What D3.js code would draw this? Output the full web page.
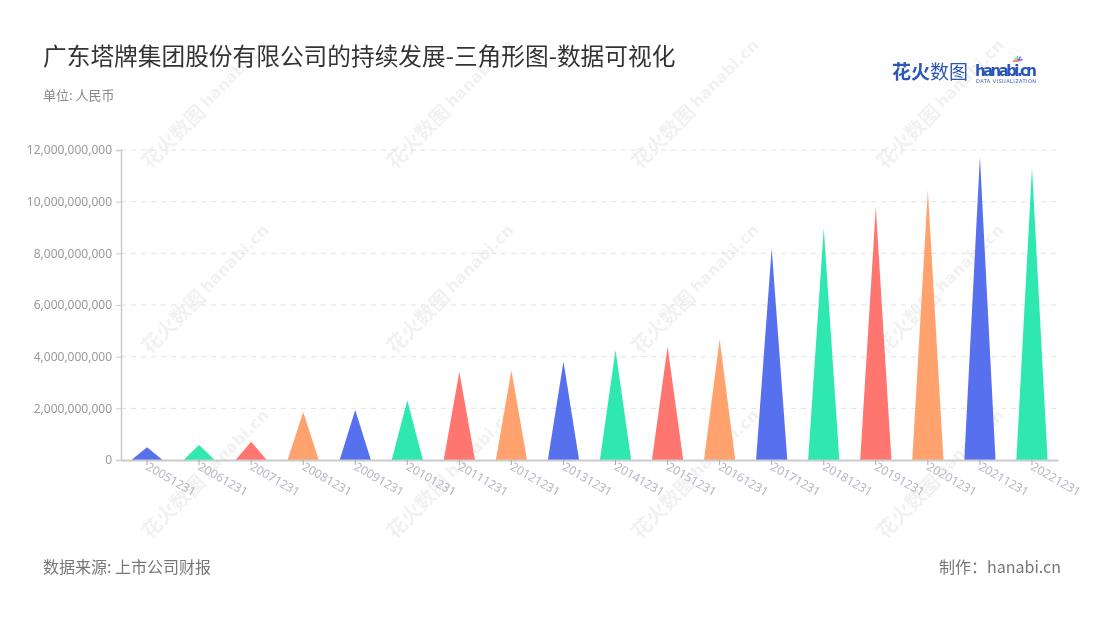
<!DOCTYPE html>
<html><head><meta charset="utf-8">
<script src="https://cdn.jsdelivr.net/npm/d3@7/dist/d3.min.js"></script>
<style>
body{margin:0;background:#fff;}
svg{display:block;font-family:"Noto Sans CJK SC","Noto Sans",sans-serif;}
</style></head>
<body><svg id="c" width="1100" height="620"></svg>
<script>
const categories = ["20051231","20061231","20071231","20081231","20091231","20101231","20111231","20121231","20131231","20141231","20151231","20161231","20171231","20181231","20191231","20201231","20211231","20221231"];
const values = [0.49e9,0.58e9,0.71e9,1.86e9,1.94e9,2.31e9,3.42e9,3.46e9,3.81e9,4.26e9,4.39e9,4.67e9,8.19e9,8.97e9,9.78e9,10.45e9,11.74e9,11.32e9];
const yTicks = [0,2e9,4e9,6e9,8e9,10e9,12e9];
const palette = ["#5770ee","#2ee8b0","#ff7570","#ffa26e"];

const svg = d3.select("#c");
const m = {l:121, r:1058, t:150, b:460};
const x = d3.scaleBand().domain(categories).range([m.l, m.r]).padding(0);
const y = d3.scaleLinear().domain([0,12e9]).range([m.b, m.t]);

// watermarks
const wm = svg.append("g").attr("opacity",0.055).attr("fill","#000");
[[150,170],[395,170],[640,170],[885,170],[150,355],[395,355],[640,355],[885,355],[150,540],[395,540],[640,540],[885,540]].forEach(([cx,cy])=>{
  const g = wm.append("g").attr("transform",`translate(${cx},${cy}) rotate(-45)`);
  g.append("text").attr("x",0).attr("y",0).attr("font-size",20).attr("font-weight","bold").text("花火数图");
  g.append("text").attr("x",84).attr("y",-3).attr("font-size",16).attr("font-weight","bold").attr("font-family","Verdana,DejaVu Sans,sans-serif").text("hanabi.cn");
});

// grid
svg.append("g").selectAll("line").data(yTicks.filter(d=>d>0)).join("line")
  .attr("x1",m.l).attr("x2",m.r).attr("y1",d=>y(d)).attr("y2",d=>y(d))
  .attr("stroke","#e0e0e0").attr("stroke-dasharray","5,5");

// y axis
const yAxis = svg.append("g").attr("transform",`translate(${m.l},0)`)
  .call(d3.axisLeft(y).tickValues(yTicks).tickSize(5).tickPadding(4).tickFormat(d3.format(",")));
yAxis.select(".domain").attr("stroke","#ccc").attr("stroke-width",1.5);
yAxis.selectAll(".tick line").attr("stroke","#ccc");
yAxis.selectAll("text").attr("fill","#999").attr("font-size",12).attr("font-family","'Noto Sans','Open Sans',sans-serif");

// bars (triangles)
svg.append("g").selectAll("path").data(values).join("path")
  .attr("d",(v,i)=>{
    const c = x(categories[i]) + x.bandwidth()/2;
    const w = x.bandwidth()*0.6;
    return `M${c-w/2},${y(0)}L${c},${y(v)}L${c+w/2},${y(0)}Z`;
  })
  .attr("fill",(v,i)=>palette[i%4]);

// x axis
const xAxis = svg.append("g").attr("transform",`translate(0,${m.b})`)
  .call(d3.axisBottom(x).tickSize(5).tickSizeOuter(0));
xAxis.select(".domain").attr("stroke","#ccc").attr("stroke-width",2);
xAxis.selectAll(".tick line").attr("stroke","#aaa");
xAxis.selectAll("text").attr("fill","#b3b6c6").attr("font-size",12)
  .attr("font-family","'Noto Sans','Open Sans',sans-serif")
  .attr("text-anchor","start").attr("dy",0).attr("y",0)
  .attr("transform","translate(-2,9) rotate(30)");

// titles
svg.append("text").attr("x",43).attr("y",65).attr("font-size",23.7).attr("fill","#333").text("广东塔牌集团股份有限公司的持续发展-三角形图-数据可视化");
svg.append("text").attr("x",43).attr("y",100).attr("font-size",13).attr("fill","#888").text("单位: 人民币");
svg.append("text").attr("x",43).attr("y",573).attr("font-size",16).attr("fill","#777").text("数据来源: 上市公司财报");
svg.append("text").attr("x",1061).attr("y",573).attr("font-size",16).attr("fill","#777").attr("text-anchor","end").text("制作：hanabi.cn");

// logo
const lg = svg.append("g");
lg.append("text").attr("x",892).attr("y",79).attr("font-size",19).attr("font-weight","bold").attr("fill","#2b58b8").text("花火");
lg.append("text").attr("x",930).attr("y",79).attr("font-size",19).attr("fill","#2b58b8").text("数图");
lg.append("text").attr("x",975).attr("y",76).attr("font-size",15).attr("font-weight","bold").attr("fill","#2b58b8").attr("font-family","Verdana,'DejaVu Sans',sans-serif").attr("textLength",62).text("hanabi.cn");
lg.append("text").attr("x",976).attr("y",83).attr("font-size",5).attr("fill","#2b58b8").attr("font-family","'DejaVu Sans',sans-serif").attr("textLength",60).text("DATA VISUALIZATION");
const sc = [["#ff5a5a",0],["#ffb340",40],["#2ee8b0",80],["#5770ee",120],["#b05af0",160]];
sc.forEach(([c,a])=>{
  lg.append("line").attr("x1",1018).attr("y1",61).attr("x2",1018+5*Math.cos((a-180)*Math.PI/180)).attr("y2",61+5*Math.sin((a-180)*Math.PI/180)).attr("stroke",c).attr("stroke-width",1.5);
});
</script></body></html>
